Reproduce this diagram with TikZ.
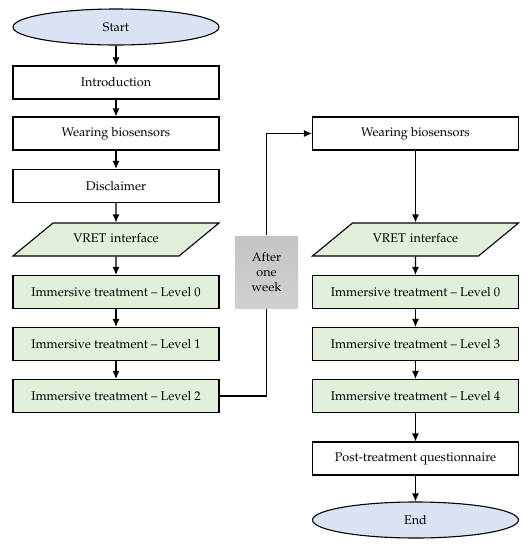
\documentclass[tikz,border=0pt]{standalone}
\usepackage[T1]{fontenc}
\usepackage{mathpazo}
\usepackage{xcolor}
\usepackage{tikz}
\usetikzlibrary{arrows.meta,positioning,shapes.geometric}
\definecolor{startfill}{RGB}{218,227,243}
\definecolor{stepfill}{RGB}{226,239,218}
\definecolor{waitfill}{RGB}{204,204,204}

\begin{document}
\begin{tikzpicture}[x=1pt,y=-1pt,>={Latex[length=8pt,width=7pt]},
  font=\fontsize{12.6}{15}\selectfont,line width=1.1pt,
  terminal/.style={draw,ellipse,fill=startfill,minimum width=206pt,minimum height=36pt,inner sep=0pt},
  plainbox/.style={draw,rectangle,minimum width=206pt,minimum height=33pt,inner sep=0pt},
  greenbox/.style={plainbox,fill=stepfill},
  iobox/.style={draw,trapezium,trapezium left angle=39.5,trapezium right angle=140.5,
    fill=stepfill,text width=126pt,align=center,text height=9pt,text depth=3pt,
    inner xsep=0pt,inner ysep=10.5pt},
  waitbox/.style={rectangle,top color=waitfill!96!black,bottom color=waitfill!92!white,
    minimum width=63pt,minimum height=72pt,align=center,inner sep=0pt}]
\useasboundingbox (0,0) rectangle (531,550);
% first session
\node[terminal] (start) at (116,27) {Start};
\node[plainbox] (intro) at (116,82.5) {Introduction};
\node[plainbox] (wearA) at (116,133.5) {Wearing biosensors};
\node[plainbox] (discl) at (116,186) {Disclaimer};
\node[iobox]    (vretA) at (116,239.5) {VRET interface};
\node[greenbox] (lvlA0) at (116,292) {Immersive treatment -- Level 0};
\node[greenbox] (lvlA1) at (116,344) {Immersive treatment -- Level 1};
\node[greenbox] (lvlA2) at (116,396) {Immersive treatment -- Level 2};
% pause
\node[waitbox]  (pause) at (266.5,272) {After\\one\\week};
% second session
\node[plainbox] (wearB) at (415.5,133.5) {Wearing biosensors};
\node[iobox]    (vretB) at (415.5,239.5) {VRET interface};
\node[greenbox] (lvlB0) at (415.5,292) {Immersive treatment -- Level 0};
\node[greenbox] (lvlB3) at (415.5,344) {Immersive treatment -- Level 3};
\node[greenbox] (lvlB4) at (415.5,396) {Immersive treatment -- Level 4};
\node[plainbox] (postq) at (415.5,458.5) {Post-treatment questionnaire};
\node[terminal] (end)   at (415.5,520) {End};
% arrows
\foreach \a/\b in {start/intro,intro/wearA,wearA/discl,discl/vretA,vretA/lvlA0,
  lvlA0/lvlA1,lvlA1/lvlA2,wearB/vretB,vretB/lvlB0,lvlB0/lvlB3,lvlB3/lvlB4,
  lvlB4/postq,postq/end}
  \draw[->] (\a) -- (\b);
\draw (lvlA2.east) -| (pause.south);
\draw[->] (pause.north) |- (wearB.west);
\end{tikzpicture}
\end{document}
